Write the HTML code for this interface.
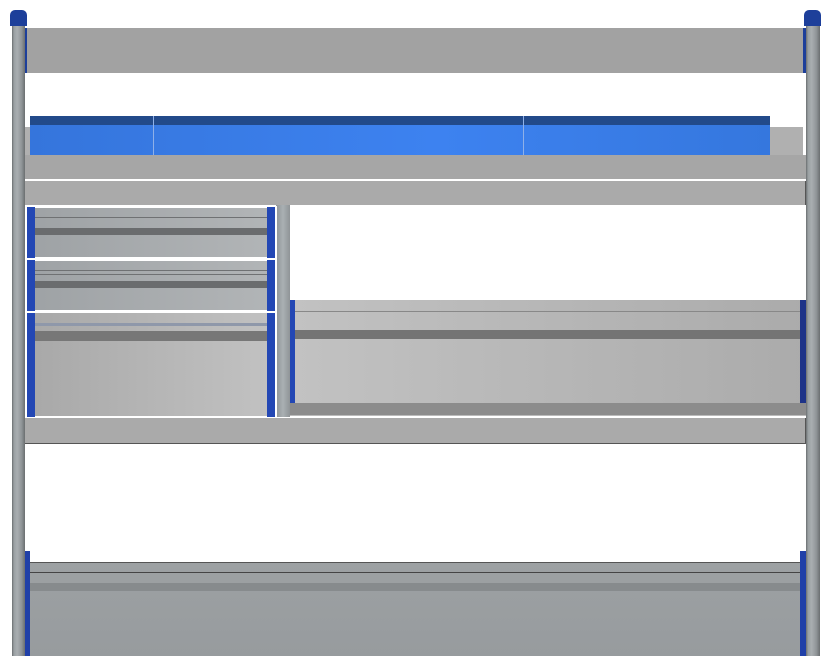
<!DOCTYPE html>
<html><head><meta charset="utf-8"><style>
html,body{margin:0;padding:0;background:#fff}
body{width:831px;height:666px;position:relative;overflow:hidden}
div{position:absolute;box-sizing:border-box}
.post{background:linear-gradient(90deg,#6a6e70 0,#9aa0a3 15%,#a9aeb1 40%,#8f9497 75%,#6a6e70 100%)}
.cap{background:#1d3f9a;border-radius:5px 5px 0 0}
.blue{background:#2347b4}
</style></head><body>
<!-- posts -->
<div class="post" style="left:12px;top:24px;width:13px;height:632px"></div>
<div class="post" style="left:806px;top:24px;width:14px;height:632px"></div>
<div class="cap" style="left:10px;top:10px;width:17px;height:16px"></div>
<div class="cap" style="left:804px;top:10px;width:17px;height:16px"></div>
<!-- top bar -->
<div style="left:25px;top:28px;width:781px;height:45px;background:#a2a2a2"></div>
<div style="left:25px;top:28px;width:2px;height:45px;background:#1d3f9a"></div>
<div style="left:803px;top:28px;width:3px;height:45px;background:#1d3f9a"></div>
<!-- blue header region -->
<div style="left:25px;top:127px;width:778px;height:28px;background:#b0b0b0"></div>
<div style="left:30px;top:116px;width:740px;height:39px;background:linear-gradient(90deg,#3575dc,#3d82f0 55%,#3577de)"></div>
<div style="left:30px;top:116px;width:740px;height:9px;background:#224a8a"></div>
<div style="left:153px;top:116px;width:1px;height:39px;background:#8fb0e8"></div>
<div style="left:523px;top:116px;width:1px;height:39px;background:#8fb0e8"></div>
<div style="left:25px;top:155px;width:781px;height:24px;background:#a6a6a6"></div>
<div style="left:25px;top:181px;width:781px;height:24px;background:#aaa;border-right:1px solid #555"></div>
<!-- left drawers -->
<div style="left:276px;top:205px;width:14px;height:212px;background:linear-gradient(90deg,#8f9497,#aab0b3,#8f9497)"></div>
<div style="left:26px;top:206px;width:251px;height:53px;background:linear-gradient(90deg,#9ea2a5,#b2b5b7);border:2px solid #fff"></div>
<div style="left:35px;top:217px;width:232px;height:1px;background:#6f7173"></div>
<div style="left:35px;top:228px;width:232px;height:7px;background:#6a6c6e"></div>
<div style="left:26px;top:259px;width:251px;height:53px;background:linear-gradient(90deg,#9ea2a5,#b2b5b7);border:2px solid #fff"></div>
<div style="left:35px;top:270px;width:232px;height:1px;background:#6f7173"></div>
<div style="left:35px;top:274px;width:232px;height:1px;background:#6f7173"></div>
<div style="left:35px;top:281px;width:232px;height:7px;background:#6a6c6e"></div>
<div style="left:26px;top:311px;width:251px;height:107px;background:linear-gradient(90deg,#a8a8a8,#c2c2c2);border:2px solid #fff"></div>
<div style="left:35px;top:323px;width:232px;height:3px;background:#8f98aa"></div>
<div style="left:35px;top:331px;width:232px;height:10px;background:#777"></div>
<div class="blue" style="left:27px;top:207px;width:8px;height:210px"></div>
<div class="blue" style="left:267px;top:207px;width:8px;height:210px"></div>
<div style="left:26px;top:258px;width:251px;height:2px;background:#fff"></div>
<div style="left:26px;top:311px;width:251px;height:2px;background:#fff"></div>
<!-- right drawer -->
<div style="left:290px;top:300px;width:516px;height:104px;background:linear-gradient(90deg,#c2c2c2,#ababab)"></div>
<div style="left:290px;top:311px;width:516px;height:1px;background:#888"></div>
<div style="left:290px;top:330px;width:516px;height:9px;background:#747474"></div>
<div class="blue" style="left:290px;top:300px;width:5px;height:104px"></div>
<div style="left:800px;top:300px;width:6px;height:104px;background:#1d3388"></div>
<div style="left:290px;top:403px;width:516px;height:13px;background:#8c8c8c;border-bottom:1px solid #bbb"></div>
<!-- shelf -->
<div style="left:25px;top:418px;width:781px;height:26px;background:#aaa;border-bottom:1px solid #555;border-right:1px solid #555"></div>
<!-- bottom drawer -->
<div style="left:30px;top:562px;width:776px;height:94px;background:linear-gradient(180deg,#9da1a3,#979b9e);border-top:1px solid #555"></div>
<div style="left:30px;top:572px;width:776px;height:1px;background:#444"></div>
<div style="left:30px;top:583px;width:776px;height:8px;background:#878b8d"></div>
<div class="blue" style="left:25px;top:551px;width:5px;height:105px;background:#2040a8"></div>
<div style="left:800px;top:551px;width:6px;height:105px;background:#2040a8"></div>
</body></html>
